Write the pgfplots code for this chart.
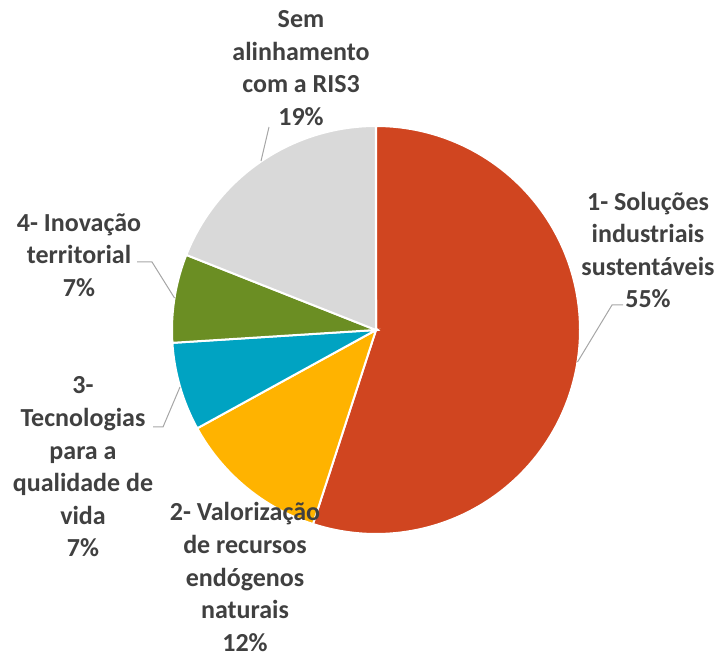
\documentclass[border=0pt]{standalone}
\usepackage{pgfplots}
\pgfplotsset{compat=1.18}
\usepackage{fontspec}
\setmainfont{Carlito}

\definecolor{cRed}{HTML}{D04520}
\definecolor{cAmber}{HTML}{FFB300}
\definecolor{cTeal}{HTML}{00A3C2}
\definecolor{cGreen}{HTML}{6B8E23}
\definecolor{cGray}{HTML}{D9D9D9}
\definecolor{txt}{HTML}{404040}
\definecolor{lead}{HTML}{A6A6A6}

% shares (%), clockwise from 12 o'clock
\def\vA{55}% 1- Soluções industriais sustentáveis
\def\vB{12}% 2- Valorização de recursos endógenos naturais
\def\vC{7}%  3- Tecnologias para a qualidade de vida
\def\vD{7}%  4- Inovação territorial
\def\vE{19}% Sem alinhamento com a RIS3

\begin{document}
\begin{tikzpicture}
\pgfmathsetmacro\tot{\vA+\vB+\vC+\vD+\vE}
\pgfmathsetmacro\aA{90}
\pgfmathsetmacro\aB{\aA-\vA/\tot*360}
\pgfmathsetmacro\aC{\aB-\vB/\tot*360}
\pgfmathsetmacro\aD{\aC-\vC/\tot*360}
\pgfmathsetmacro\aE{\aD-\vD/\tot*360}
\pgfmathsetmacro\aF{\aE-\vE/\tot*360}
\def\cx{376}\def\cy{328}\def\R{204}
\begin{axis}[
  width=360.5pt, height=329pt, scale only axis,
  xmin=0, xmax=721, ymin=0, ymax=658,
  hide axis, clip=false,
  every axis plot/.append style={draw=white, line width=1pt, samples=120},
]
\path (rel axis cs:0,0) rectangle (rel axis cs:1,1);
\addplot[fill=cRed,   domain=\aB:\aA] ({\cx+\R*cos(x)},{\cy+\R*sin(x)}) -- (axis cs:\cx,\cy) -- cycle;
\addplot[fill=cAmber, domain=\aC:\aB] ({\cx+\R*cos(x)},{\cy+\R*sin(x)}) -- (axis cs:\cx,\cy) -- cycle;
\addplot[fill=cTeal,  domain=\aD:\aC] ({\cx+\R*cos(x)},{\cy+\R*sin(x)}) -- (axis cs:\cx,\cy) -- cycle;
\addplot[fill=cGreen, domain=\aE:\aD] ({\cx+\R*cos(x)},{\cy+\R*sin(x)}) -- (axis cs:\cx,\cy) -- cycle;
\addplot[fill=cGray,  domain=\aF:\aE] ({\cx+\R*cos(x)},{\cy+\R*sin(x)}) -- (axis cs:\cx,\cy) -- cycle;

% leader lines
\draw[lead, line width=0.5pt] (axis cs:623,353) -- (axis cs:612,353) -- (axis cs:577.5,296);
\draw[lead, line width=0.5pt] (axis cs:269,531) -- (axis cs:261,497);
\draw[lead, line width=0.5pt] (axis cs:137,396) -- (axis cs:152,396) -- (axis cs:174.5,360);
\draw[lead, line width=0.5pt] (axis cs:153,231) -- (axis cs:163,231) -- (axis cs:180,271);

% labels
\tikzset{lbl/.style={align=center, text=txt, inner sep=0pt,
  font=\bfseries\fontsize{13}{16.3}\selectfont}}
\node[lbl] at (axis cs:648,408) {1- Soluções\\industriais\\sustentáveis\\55\%};
\node[lbl] at (axis cs:245,81) {2- Valorização\\de recursos\\endógenos\\naturais\\12\%};
\node[lbl] at (axis cs:83,191) {3-\\Tecnologias\\para a\\qualidade de\\vida\\7\%};
\node[lbl] at (axis cs:79,403) {4- Inovação\\territorial\\7\%};
\node[lbl] at (axis cs:301,590) {Sem\\alinhamento\\com a RIS3\\19\%};
\end{axis}
\end{tikzpicture}
\end{document}
